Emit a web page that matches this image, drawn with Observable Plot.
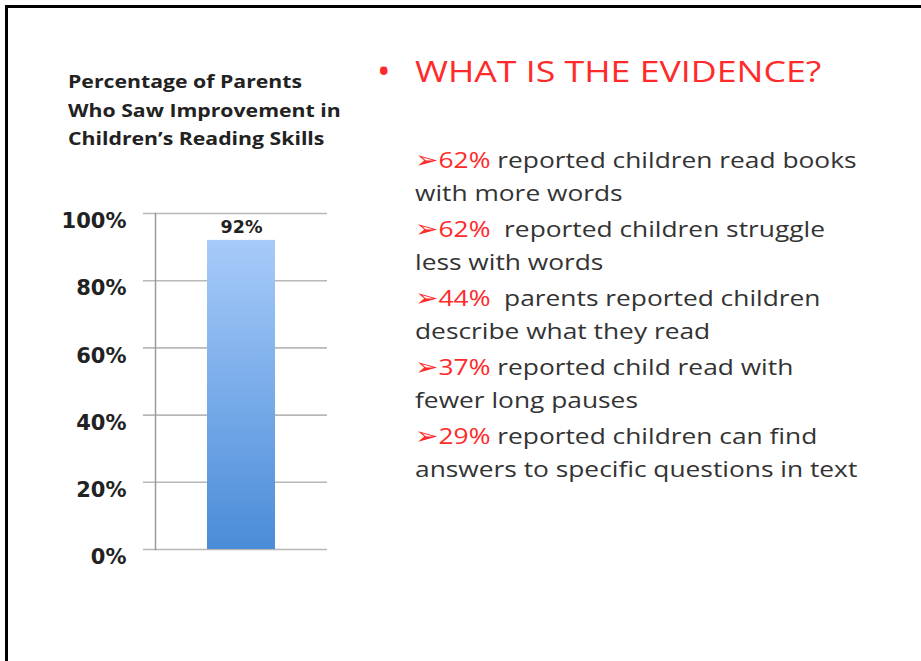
<!DOCTYPE html>
<html>
<head>
<meta charset="utf-8">
<script src="https://cdn.jsdelivr.net/npm/d3@7"></script>
<script src="https://cdn.jsdelivr.net/npm/@observablehq/plot@0.6"></script>
<style>
  html, body { margin: 0; padding: 0; background: #fff; }
  #page { position: relative; width: 921px; height: 661px; overflow: hidden; background: #fff; }
  #border { position: absolute; left: 5px; top: 5px; width: 940px; height: 680px;
            border-top: 3px solid #000; border-left: 3px solid #000; box-sizing: border-box; }
  #chartTitle { position: absolute; left: 68px; top: 67px; font-family: "Open Sans", sans-serif;
                font-weight: bold; font-size: 18px; line-height: 28.5px; color: #222; white-space: nowrap;
                transform: scaleX(1.18); transform-origin: 0 0; }
  #chart { position: absolute; left: 0; top: 0; }
  #dot { position: absolute; left: 377px; top: 46px; font-family: "Open Sans", sans-serif;
         font-size: 36px; color: #ff2a2a; }
  #heading { position: absolute; left: 415px; top: 50px; font-family: "Open Sans", sans-serif;
             font-size: 30px; color: #ff2a2a; white-space: nowrap;
             transform: scaleX(1.19); transform-origin: 0 0; }
  #items { position: absolute; left: 415px; top: 143px; font-family: "Open Sans", sans-serif;
           font-size: 22.5px; color: #333; line-height: 33px; white-space: pre;
           transform: scaleX(1.17); transform-origin: 0 0; }
  #items p { margin: 0 0 3px 0; }
  #items .red { color: #ff2a2a; }
  #items .arr { font-family: "DejaVu Sans", sans-serif; font-size: 24px; line-height: 1px; color: #ff2a2a; }
</style>
</head>
<body>
<div id="page">
  <div id="border"></div>
  <div id="chartTitle"></div>
  <div id="chart"></div>
  <div id="dot">•</div>
  <div id="heading"></div>
  <div id="items"></div>
</div>
<script>
// ---- data ----
const chartTitleLines = ["Percentage of Parents", "Who Saw Improvement in", "Children’s Reading Skills"];
const categories = ["Parents"];
const values = [0.92];
const valueLabels = ["92%"];
const yTicks = [0, 0.2, 0.4, 0.6, 0.8, 1.0];
const yTickLabels = ["0%", "20%", "40%", "60%", "80%", "100%"];

const headingText = "WHAT IS THE EVIDENCE?";
const evidencePercents = ["62%", "62% ", "44% ", "37%", "29%"];
const evidenceLine1 = ["reported children read books", "reported children struggle", "parents reported children", "reported child read with", "reported children can find"];
const evidenceLine2 = ["with more words", "less with words", "describe what they read", "fewer long pauses", "answers to specific questions in text"];

// ---- text panels ----
document.getElementById("chartTitle").innerHTML = chartTitleLines.join("<br>");
document.getElementById("heading").textContent = headingText;
document.getElementById("items").innerHTML = evidencePercents.map((p, i) =>
  `<p><span class="arr">➢</span><span class="red">${p}</span> ${evidenceLine1[i]}<br>${evidenceLine2[i]}</p>`
).join("");

// ---- chart ----
const data = categories.map((c, i) => ({cat: c, value: values[i], label: valueLabels[i]}));
const ticks = yTicks.map((t, i) => ({t, label: yTickLabels[i]}));

const plot = Plot.plot({
  width: 340,
  height: 570,
  marginLeft: 155,
  marginRight: 13,
  marginTop: 213,
  marginBottom: 21,
  style: {fontFamily: "'DejaVu Sans', sans-serif", background: "transparent"},
  x: {domain: categories, padding: 0.43, axis: null},
  y: {domain: [0, 1], axis: null},
  marks: [
    Plot.ruleY(ticks, {y: "t", stroke: "#b8b8b8", strokeWidth: 1.6, insetLeft: -12}),
    Plot.text(ticks, {y: "t", text: "label", frameAnchor: "left", textAnchor: "end", dx: -29, dy: 8,
                      fontSize: 21, fontWeight: "bold", fill: "#222"}),
    Plot.barY(data, {x: "cat", y: "value", fill: "url(#barGrad)"}),
    Plot.frame({anchor: "left", stroke: "#9a9a9a", strokeWidth: 1.5}),
    Plot.text(data, {x: "cat", y: "value", text: "label", dy: -13, fontSize: 17.5, fontWeight: "bold", fill: "#222"})
  ]
});

const defs = d3.select(plot).insert("defs", ":first-child");
const grad = defs.append("linearGradient").attr("id", "barGrad")
  .attr("x1", 0).attr("y1", 0).attr("x2", 0).attr("y2", 1);
grad.append("stop").attr("offset", "0%").attr("stop-color", "#a7cbfa");
grad.append("stop").attr("offset", "100%").attr("stop-color", "#4a8cd8");

document.getElementById("chart").appendChild(plot);
</script>
</body>
</html>
